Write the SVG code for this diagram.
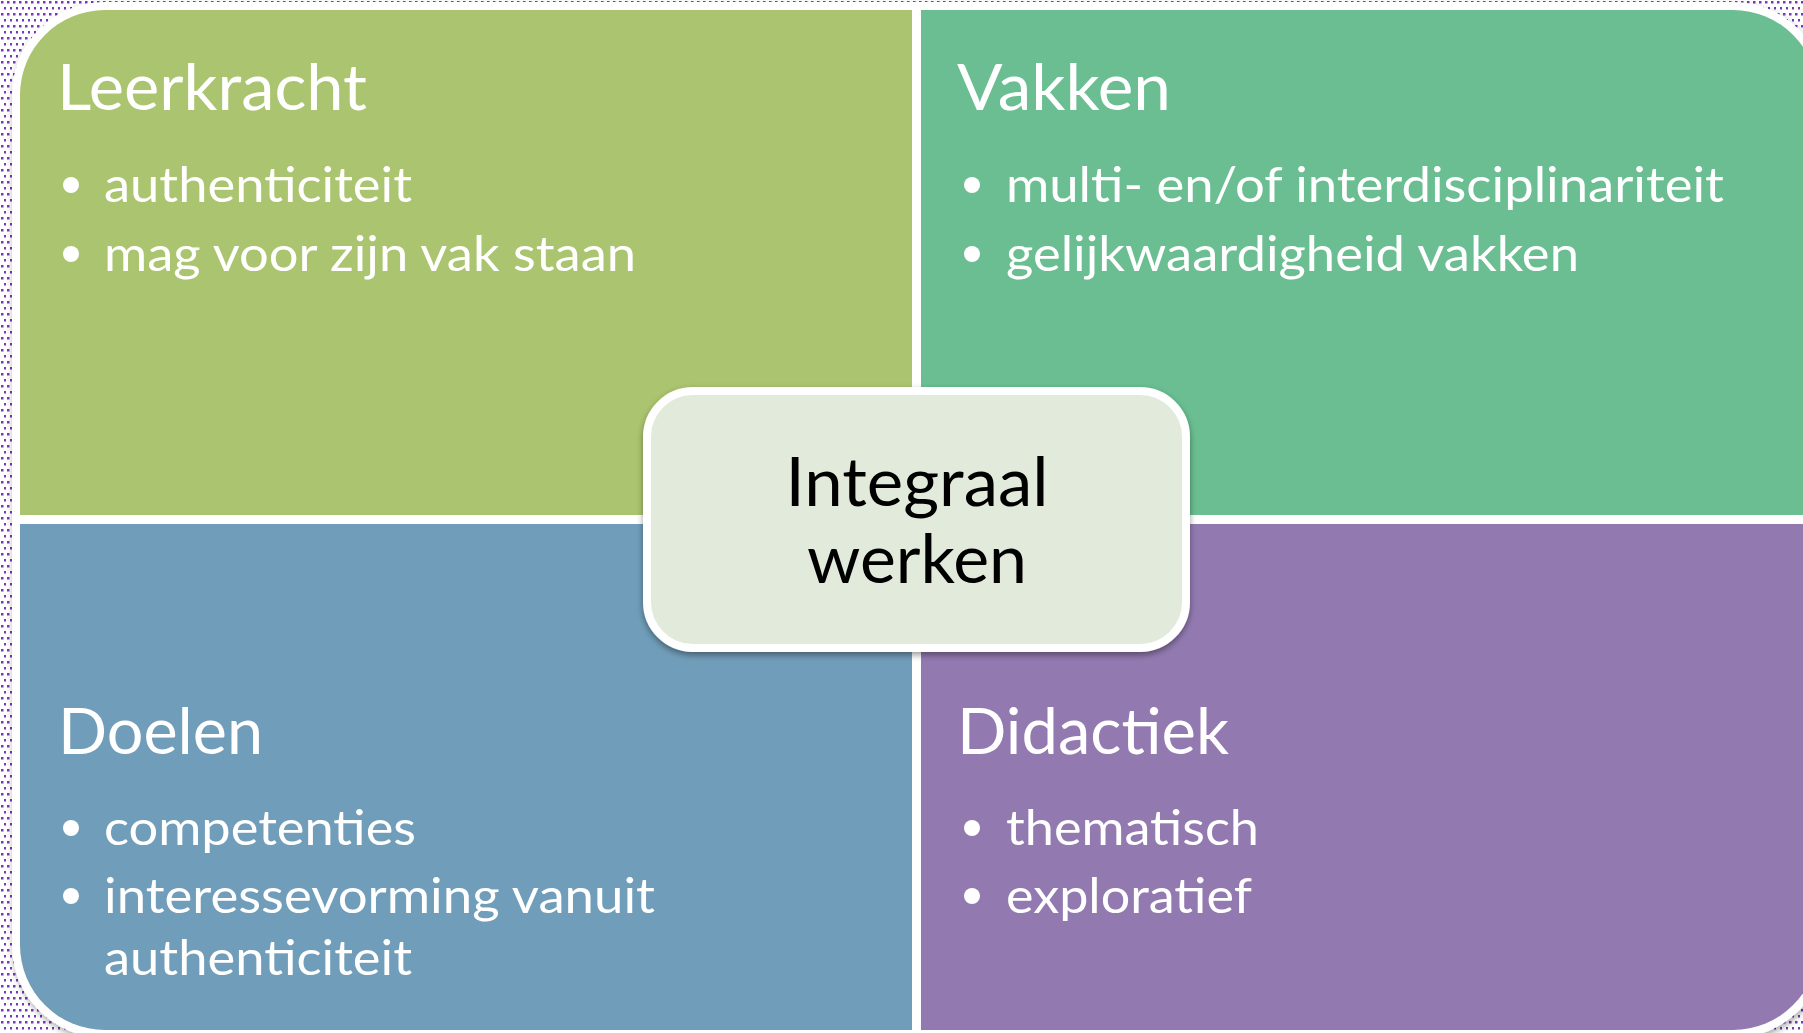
<svg xmlns="http://www.w3.org/2000/svg" width="1803" height="1033" viewBox="0 0 1803 1033">
<style>
.t{font-family:Lato,"Liberation Sans",sans-serif;fill:#ffffff}
.h{font-size:63px}
.b{font-size:49px}
.c{font-family:Lato,"Liberation Sans",sans-serif;fill:#000000;font-size:67px;text-anchor:middle}
.dot{fill:#ffffff}
</style>
<defs>
<pattern id="dots" width="6" height="12" patternUnits="userSpaceOnUse">
<rect x="1" y="1" width="2.5" height="2.5" fill="#7838B8"/>
<rect x="4" y="7" width="2.5" height="2.5" fill="#7838B8"/>
</pattern>
<filter id="sh" x="-5%" y="-5%" width="110%" height="110%">
<feDropShadow dx="1" dy="3" stdDeviation="3" flood-color="#000" flood-opacity="0.35"/>
</filter>
<filter id="sh2" x="-10%" y="-10%" width="120%" height="125%">
<feDropShadow dx="0" dy="3" stdDeviation="3" flood-color="#000" flood-opacity="0.4"/>
</filter>
</defs>
<rect x="0" y="0" width="1803" height="1033" fill="#ffffff"/>
<rect x="0" y="0" width="1803" height="1033" fill="url(#dots)"/>
<rect id="frame" x="12" y="2" width="1814" height="1036" rx="93" fill="#ffffff" filter="url(#sh)"/>

<g id="leerkracht">
<path d="M20,515 V95 A85,85 0 0 1 105,10 H912 V515 Z" fill="#ABC46F"/>
<text class="t h" x="57" y="110" textLength="310" lengthAdjust="spacingAndGlyphs">Leerkracht</text>
<circle class="dot" cx="71" cy="185" r="8"/>
<text class="t b" x="104" y="202" textLength="308" lengthAdjust="spacingAndGlyphs">authenticiteit</text>
<circle class="dot" cx="71" cy="254" r="8"/>
<text class="t b" x="104" y="271" textLength="532" lengthAdjust="spacingAndGlyphs">mag voor zijn vak staan</text>
</g>

<g id="vakken">
<path d="M921,10 H1733 A85,85 0 0 1 1818,95 V515 H921 Z" fill="#6ABE91"/>
<text class="t h" x="957" y="110" textLength="214" lengthAdjust="spacingAndGlyphs">Vakken</text>
<circle class="dot" cx="972" cy="185" r="8"/>
<text class="t b" x="1006" y="202" textLength="718" lengthAdjust="spacingAndGlyphs">multi- en/of interdisciplinariteit</text>
<circle class="dot" cx="972" cy="254" r="8"/>
<text class="t b" x="1006" y="271" textLength="573" lengthAdjust="spacingAndGlyphs">gelijkwaardigheid vakken</text>
</g>

<g id="doelen">
<path d="M20,524 H912 V1030 H105 A85,85 0 0 1 20,945 Z" fill="#709DB9"/>
<text class="t h" x="58" y="754" textLength="205" lengthAdjust="spacingAndGlyphs">Doelen</text>
<circle class="dot" cx="71" cy="828" r="8"/>
<text class="t b" x="104" y="845" textLength="312" lengthAdjust="spacingAndGlyphs">competenties</text>
<circle class="dot" cx="71" cy="896" r="8"/>
<text class="t b" x="104" y="913" textLength="551" lengthAdjust="spacingAndGlyphs">interessevorming vanuit</text>
<text class="t b" x="104" y="975" textLength="308" lengthAdjust="spacingAndGlyphs">authenticiteit</text>
</g>

<g id="didactiek">
<path d="M921,524 H1818 V945 A85,85 0 0 1 1733,1030 H921 Z" fill="#927AB1"/>
<text class="t h" x="957" y="754" textLength="272" lengthAdjust="spacingAndGlyphs">Didactiek</text>
<circle class="dot" cx="972" cy="828" r="8"/>
<text class="t b" x="1006" y="845" textLength="253" lengthAdjust="spacingAndGlyphs">thematisch</text>
<circle class="dot" cx="972" cy="896" r="8"/>
<text class="t b" x="1006" y="913" textLength="246" lengthAdjust="spacingAndGlyphs">exploratief</text>
</g>

<g id="integraal-werken">
<rect x="647" y="391" width="539" height="257" rx="46" fill="#E2EBDB" stroke="#ffffff" stroke-width="8" filter="url(#sh2)"/>
<text class="c" x="917" y="506" textLength="263" lengthAdjust="spacingAndGlyphs">Integraal</text>
<text class="c" x="917" y="583" textLength="220" lengthAdjust="spacingAndGlyphs">werken</text>
</g>

<g id="connectors"></g>
</svg>
